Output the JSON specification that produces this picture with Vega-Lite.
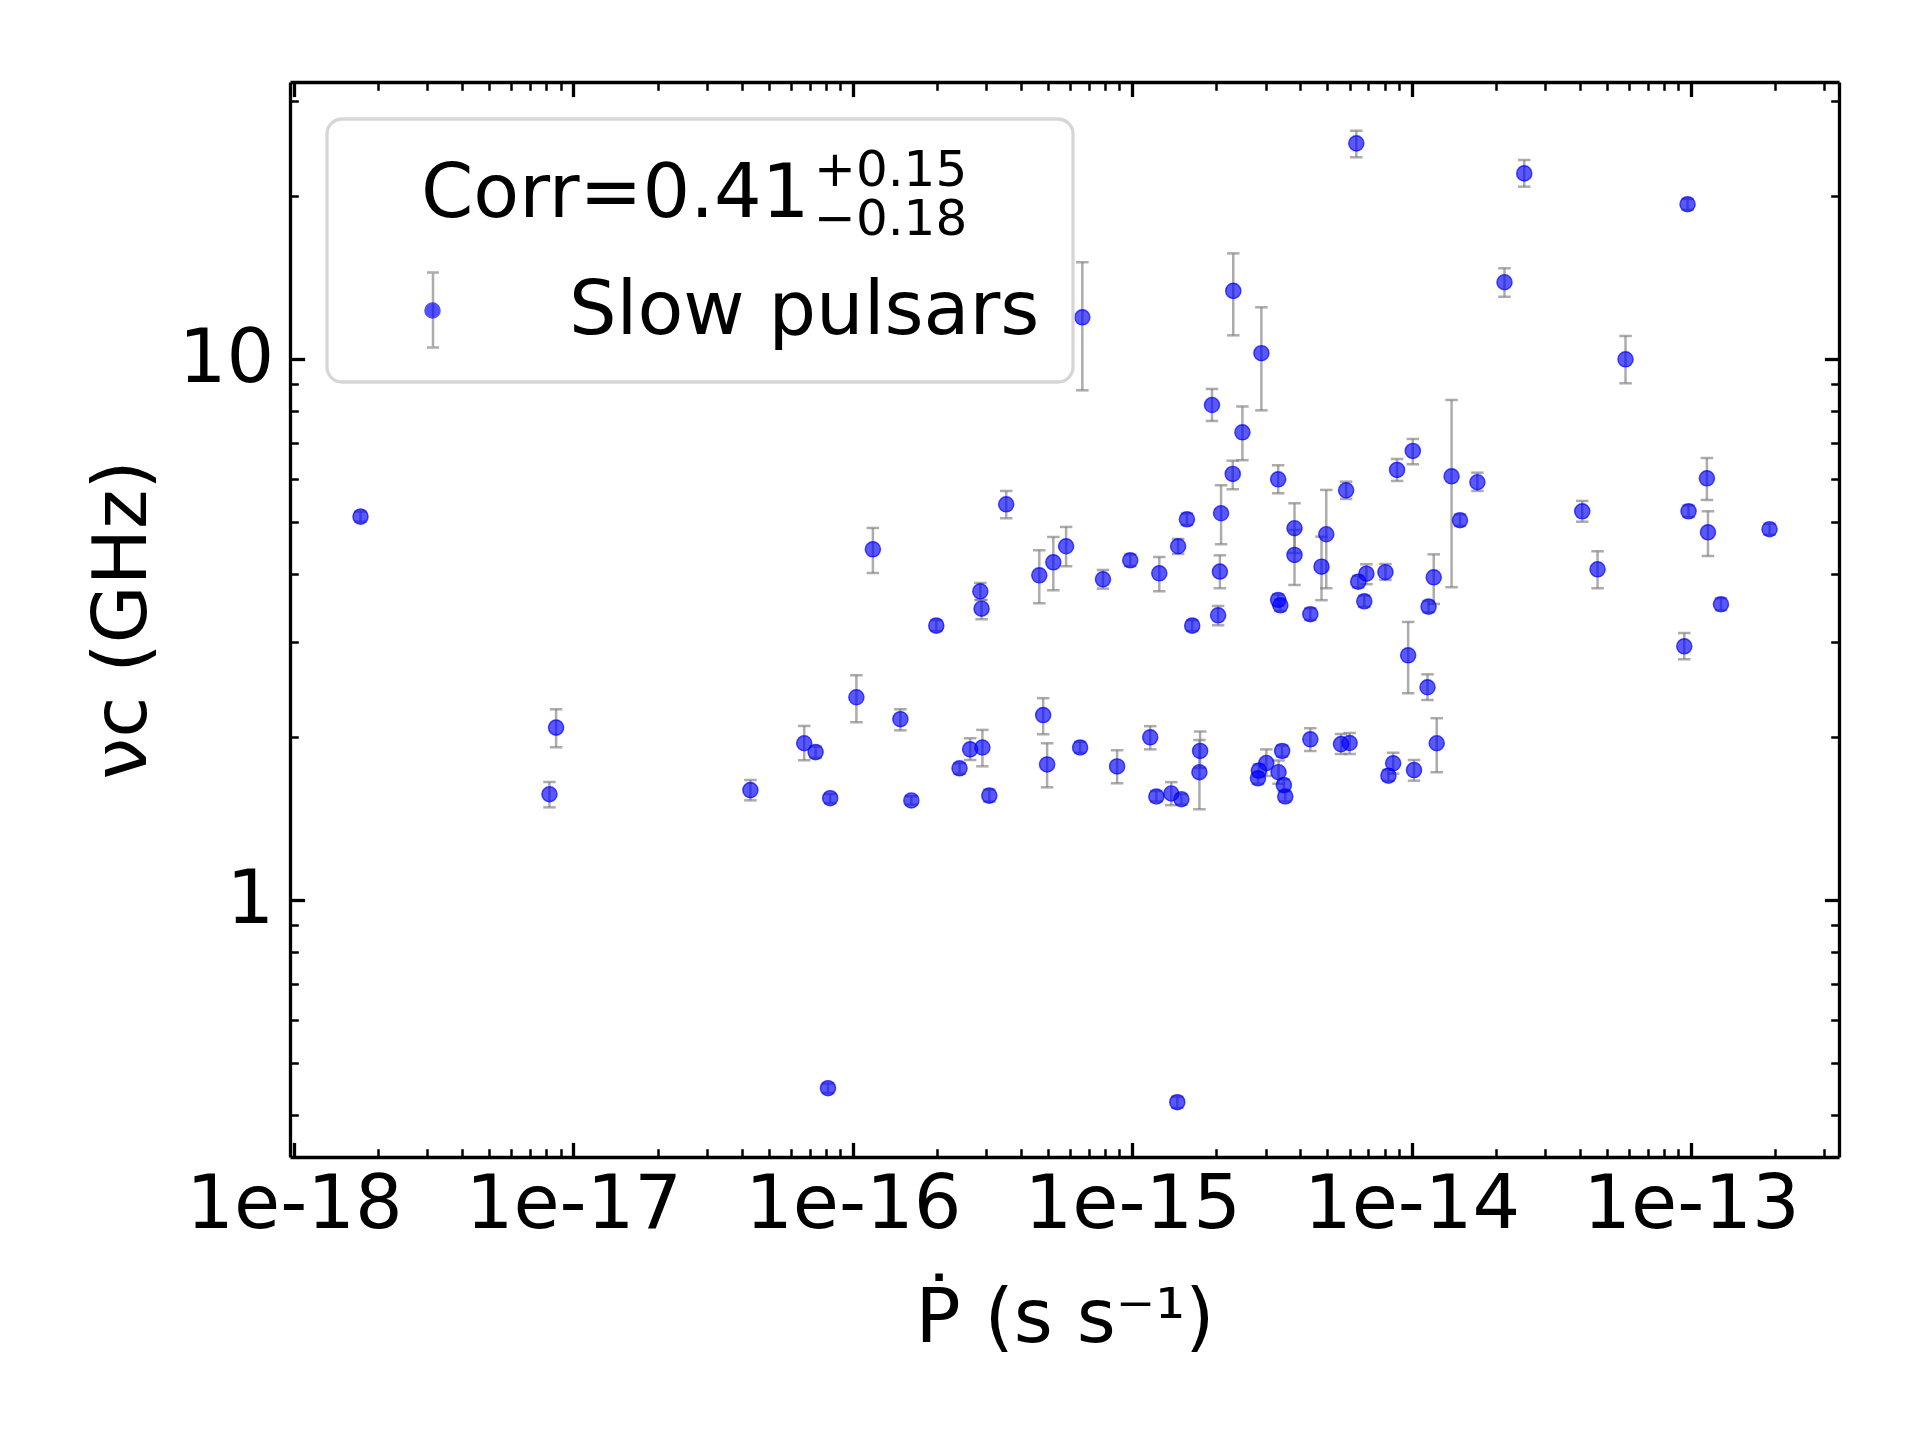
{
  "$schema": "https://vega.github.io/schema/vega-lite/v6.json",
  "width": 1549,
  "height": 1075,
  "autosize": {"type": "none"},
  "padding": {"left": 290, "top": 82, "right": 81, "bottom": 283},
  "background": "white",
  "config": {"view": {"stroke": null}, "axis": {"grid": false}},
  "title": {
    "text": ["+0.15", "−0.18"],
    "anchor": "start",
    "frame": "group",
    "orient": "top",
    "offset": -181,
    "dx": 524,
    "font": "DejaVu Sans",
    "fontSize": 50,
    "fontWeight": "normal",
    "lineHeight": 49,
    "color": "black",
    "limit": 0
  },
  "data": {
    "values": [
      {"pdot": 1.73e-18, "nu": 5.11, "lo": 5.0, "hi": 5.22},
      {"pdot": 8.21e-18, "nu": 1.568, "lo": 1.483, "hi": 1.652},
      {"pdot": 8.67e-18, "nu": 2.082, "lo": 1.915, "hi": 2.251},
      {"pdot": 4.30e-17, "nu": 1.596, "lo": 1.528, "hi": 1.666},
      {"pdot": 6.70e-17, "nu": 1.948, "lo": 1.812, "hi": 2.097},
      {"pdot": 7.36e-17, "nu": 1.876, "lo": 1.83, "hi": 1.92},
      {"pdot": 8.15e-17, "nu": 0.449, "lo": 0.44, "hi": 0.458},
      {"pdot": 8.30e-17, "nu": 1.542, "lo": 1.51, "hi": 1.57},
      {"pdot": 1.03e-16, "nu": 2.369, "lo": 2.13, "hi": 2.602},
      {"pdot": 1.18e-16, "nu": 4.446, "lo": 4.02, "hi": 4.869},
      {"pdot": 1.48e-16, "nu": 2.158, "lo": 2.058, "hi": 2.251},
      {"pdot": 1.62e-16, "nu": 1.527, "lo": 1.5, "hi": 1.555},
      {"pdot": 1.99e-16, "nu": 3.213, "lo": 3.14, "hi": 3.29},
      {"pdot": 2.41e-16, "nu": 1.751, "lo": 1.71, "hi": 1.79},
      {"pdot": 2.63e-16, "nu": 1.898, "lo": 1.814, "hi": 1.99},
      {"pdot": 2.86e-16, "nu": 3.719, "lo": 3.584, "hi": 3.853},
      {"pdot": 2.89e-16, "nu": 3.453, "lo": 3.302, "hi": 3.584},
      {"pdot": 2.91e-16, "nu": 1.913, "lo": 1.766, "hi": 2.062},
      {"pdot": 3.08e-16, "nu": 1.559, "lo": 1.52, "hi": 1.6},
      {"pdot": 3.54e-16, "nu": 5.385, "lo": 5.074, "hi": 5.699},
      {"pdot": 4.65e-16, "nu": 3.981, "lo": 3.534, "hi": 4.428},
      {"pdot": 4.80e-16, "nu": 2.196, "lo": 2.024, "hi": 2.36},
      {"pdot": 4.96e-16, "nu": 1.78, "lo": 1.615, "hi": 1.948},
      {"pdot": 5.22e-16, "nu": 4.207, "lo": 3.735, "hi": 4.686},
      {"pdot": 5.80e-16, "nu": 4.504, "lo": 4.137, "hi": 4.89},
      {"pdot": 6.51e-16, "nu": 1.913, "lo": 1.87, "hi": 1.96},
      {"pdot": 6.63e-16, "nu": 11.93, "lo": 8.746, "hi": 15.08},
      {"pdot": 7.86e-16, "nu": 3.913, "lo": 3.761, "hi": 4.072},
      {"pdot": 8.83e-16, "nu": 1.765, "lo": 1.643, "hi": 1.891},
      {"pdot": 9.84e-16, "nu": 4.243, "lo": 4.14, "hi": 4.35},
      {"pdot": 1.16e-15, "nu": 1.998, "lo": 1.898, "hi": 2.095},
      {"pdot": 1.22e-15, "nu": 1.553, "lo": 1.52, "hi": 1.59},
      {"pdot": 1.25e-15, "nu": 4.015, "lo": 3.719, "hi": 4.303},
      {"pdot": 1.38e-15, "nu": 1.573, "lo": 1.497, "hi": 1.651},
      {"pdot": 1.46e-15, "nu": 4.504, "lo": 4.359, "hi": 4.646},
      {"pdot": 1.45e-15, "nu": 0.423, "lo": 0.413, "hi": 0.433},
      {"pdot": 1.50e-15, "nu": 1.535, "lo": 1.5, "hi": 1.57},
      {"pdot": 1.57e-15, "nu": 5.052, "lo": 4.93, "hi": 5.18},
      {"pdot": 1.64e-15, "nu": 3.213, "lo": 3.14, "hi": 3.29},
      {"pdot": 1.74e-15, "nu": 1.722, "lo": 1.471, "hi": 1.975},
      {"pdot": 1.75e-15, "nu": 1.885, "lo": 1.754, "hi": 2.048},
      {"pdot": 1.93e-15, "nu": 8.215, "lo": 7.676, "hi": 8.796},
      {"pdot": 2.03e-15, "nu": 3.358, "lo": 3.218, "hi": 3.494},
      {"pdot": 2.06e-15, "nu": 4.044, "lo": 3.767, "hi": 4.334},
      {"pdot": 2.08e-15, "nu": 5.183, "lo": 4.543, "hi": 5.839},
      {"pdot": 2.29e-15, "nu": 6.126, "lo": 5.74, "hi": 6.482},
      {"pdot": 2.30e-15, "nu": 13.35, "lo": 11.05, "hi": 15.66},
      {"pdot": 2.48e-15, "nu": 7.314, "lo": 6.496, "hi": 8.164},
      {"pdot": 2.82e-15, "nu": 1.678, "lo": 1.64, "hi": 1.72},
      {"pdot": 2.90e-15, "nu": 10.24, "lo": 8.031, "hi": 12.45},
      {"pdot": 3.02e-15, "nu": 1.791, "lo": 1.695, "hi": 1.898},
      {"pdot": 2.84e-15, "nu": 1.734, "lo": 1.69, "hi": 1.78},
      {"pdot": 3.34e-15, "nu": 1.722, "lo": 1.64, "hi": 1.81},
      {"pdot": 3.33e-15, "nu": 5.989, "lo": 5.643, "hi": 6.357},
      {"pdot": 3.33e-15, "nu": 3.584, "lo": 3.5, "hi": 3.67},
      {"pdot": 3.39e-15, "nu": 3.504, "lo": 3.42, "hi": 3.59},
      {"pdot": 3.44e-15, "nu": 1.885, "lo": 1.84, "hi": 1.93},
      {"pdot": 3.49e-15, "nu": 1.63, "lo": 1.59, "hi": 1.67},
      {"pdot": 3.53e-15, "nu": 1.553, "lo": 1.52, "hi": 1.59},
      {"pdot": 3.81e-15, "nu": 4.863, "lo": 4.377, "hi": 5.408},
      {"pdot": 3.81e-15, "nu": 4.34, "lo": 3.82, "hi": 4.827},
      {"pdot": 4.34e-15, "nu": 3.373, "lo": 3.29, "hi": 3.46},
      {"pdot": 4.34e-15, "nu": 1.981, "lo": 1.885, "hi": 2.076},
      {"pdot": 4.76e-15, "nu": 4.129, "lo": 3.581, "hi": 4.692},
      {"pdot": 4.95e-15, "nu": 4.74, "lo": 3.767, "hi": 5.724},
      {"pdot": 5.59e-15, "nu": 1.941, "lo": 1.861, "hi": 2.026},
      {"pdot": 5.83e-15, "nu": 5.715, "lo": 5.508, "hi": 5.929},
      {"pdot": 6.00e-15, "nu": 1.95, "lo": 1.861, "hi": 2.035},
      {"pdot": 6.34e-15, "nu": 25.01, "lo": 23.57, "hi": 26.39},
      {"pdot": 6.44e-15, "nu": 3.874, "lo": 3.78, "hi": 3.97},
      {"pdot": 6.77e-15, "nu": 3.564, "lo": 3.48, "hi": 3.65},
      {"pdot": 6.89e-15, "nu": 4.008, "lo": 3.832, "hi": 4.172},
      {"pdot": 8.06e-15, "nu": 4.033, "lo": 3.902, "hi": 4.177},
      {"pdot": 8.26e-15, "nu": 1.697, "lo": 1.66, "hi": 1.74},
      {"pdot": 8.59e-15, "nu": 1.789, "lo": 1.712, "hi": 1.871},
      {"pdot": 8.87e-15, "nu": 6.232, "lo": 5.947, "hi": 6.53},
      {"pdot": 9.72e-15, "nu": 2.832, "lo": 2.41, "hi": 3.264},
      {"pdot": 1.02e-14, "nu": 1.738, "lo": 1.661, "hi": 1.814},
      {"pdot": 1.01e-14, "nu": 6.756, "lo": 6.384, "hi": 7.11},
      {"pdot": 1.14e-14, "nu": 2.472, "lo": 2.342, "hi": 2.612},
      {"pdot": 1.15e-14, "nu": 3.484, "lo": 3.4, "hi": 3.57},
      {"pdot": 1.20e-14, "nu": 3.947, "lo": 3.524, "hi": 4.352},
      {"pdot": 1.23e-14, "nu": 1.948, "lo": 1.722, "hi": 2.167},
      {"pdot": 1.39e-14, "nu": 6.066, "lo": 3.784, "hi": 8.393},
      {"pdot": 1.49e-14, "nu": 5.031, "lo": 4.91, "hi": 5.16},
      {"pdot": 1.72e-14, "nu": 5.914, "lo": 5.699, "hi": 6.16},
      {"pdot": 2.15e-14, "nu": 13.85, "lo": 13.02, "hi": 14.7},
      {"pdot": 2.53e-14, "nu": 22.01, "lo": 20.8, "hi": 23.3},
      {"pdot": 4.08e-14, "nu": 5.227, "lo": 5.0, "hi": 5.462},
      {"pdot": 4.63e-14, "nu": 4.083, "lo": 3.767, "hi": 4.409},
      {"pdot": 5.83e-14, "nu": 9.979, "lo": 9.011, "hi": 11.02},
      {"pdot": 9.46e-14, "nu": 2.943, "lo": 2.785, "hi": 3.114},
      {"pdot": 9.72e-14, "nu": 19.3, "lo": 18.85, "hi": 19.75},
      {"pdot": 9.80e-14, "nu": 5.227, "lo": 5.1, "hi": 5.36},
      {"pdot": 1.14e-13, "nu": 6.015, "lo": 5.485, "hi": 6.557},
      {"pdot": 1.15e-13, "nu": 4.78, "lo": 4.321, "hi": 5.227},
      {"pdot": 1.28e-13, "nu": 3.519, "lo": 3.43, "hi": 3.61},
      {"pdot": 1.91e-13, "nu": 4.842, "lo": 4.73, "hi": 4.96}
    ]
  },
  "resolve": {"axis": {"x": "independent", "y": "independent"}},
  "layer": [
    {
      "mark": {"type": "rule", "strokeWidth": 2.5, "opacity": 0.65},
      "encoding": {
        "x": {
          "field": "pdot", "type": "quantitative",
          "scale": {"type": "log", "domain": [9.676e-19, 3.386e-13], "nice": false},
          "axis": {
            "orient": "bottom",
            "values": [1e-18, 2e-18, 3e-18, 4e-18, 5e-18, 6e-18, 7e-18, 8e-18, 9e-18, 1e-17, 2e-17, 3e-17, 4e-17, 5e-17, 6e-17, 7e-17, 8e-17, 9e-17, 1e-16, 2e-16, 3e-16, 4e-16, 5e-16, 6e-16, 7e-16, 8e-16, 9e-16, 1e-15, 2e-15, 3e-15, 4e-15, 5e-15, 6e-15, 7e-15, 8e-15, 9e-15, 1e-14, 2e-14, 3e-14, 4e-14, 5e-14, 6e-14, 7e-14, 8e-14, 9e-14, 1e-13, 2e-13, 3e-13],
            "labelExpr": "abs(log(datum.value)/LN10 - round(log(datum.value)/LN10)) < 0.001 ? '1e' + round(log(datum.value)/LN10) : ''",
            "tickSize": {"condition": {"test": "abs(log(datum.value)/LN10 - round(log(datum.value)/LN10)) < 0.001", "value": -14.6}, "value": -8.3},
            "tickWidth": {"condition": {"test": "abs(log(datum.value)/LN10 - round(log(datum.value)/LN10)) < 0.001", "value": 3.3}, "value": 2.5},
            "tickColor": "black",
            "domainColor": "black",
            "domainWidth": 3.3,
            "labelFont": "DejaVu Sans",
            "labelFontSize": 75,
            "labelColor": "black",
            "labelPadding": 26,
            "labelLimit": 1000,
            "labelOverlap": false,
            "labelFlush": false,
            "labelBound": false,
            "title": "Ṗ (s s⁻¹)",
            "titleFont": "DejaVu Sans",
            "titleFontSize": 75,
            "titleFontWeight": "normal",
            "titleColor": "black",
            "titlePadding": 34,
            "grid": false
          }
        },
        "y": {
          "field": "lo", "type": "quantitative",
          "scale": {"type": "log", "domain": [0.335, 32.47], "nice": false},
          "axis": {
            "orient": "left",
            "values": [0.4, 0.5, 0.6, 0.7, 0.8, 0.9, 1, 2, 3, 4, 5, 6, 7, 8, 9, 10, 20, 30],
            "labelExpr": "abs(log(datum.value)/LN10 - round(log(datum.value)/LN10)) < 0.001 ? '' + round(datum.value) : ''",
            "tickSize": {"condition": {"test": "abs(log(datum.value)/LN10 - round(log(datum.value)/LN10)) < 0.001", "value": -14.6}, "value": -8.3},
            "tickWidth": {"condition": {"test": "abs(log(datum.value)/LN10 - round(log(datum.value)/LN10)) < 0.001", "value": 3.3}, "value": 2.5},
            "tickColor": "black",
            "domainColor": "black",
            "domainWidth": 3.3,
            "labelFont": "DejaVu Sans",
            "labelFontSize": 75,
            "labelColor": "black",
            "labelPadding": 31,
            "labelLimit": 1000,
            "labelOverlap": false,
            "labelFlush": false,
            "labelBound": false,
            "title": "νc (GHz)",
            "titleFont": "DejaVu Sans",
            "titleFontSize": 75,
            "titleFontWeight": "normal",
            "titleColor": "black",
            "titlePadding": 17,
            "grid": false
          }
        },
        "y2": {"field": "hi"},
        "stroke": {
          "datum": "err", "type": "nominal",
          "scale": {"range": ["#808080"]},
          "legend": {
            "orient": "none",
            "legendX": 104,
            "legendY": 189,
            "padding": 0,
            "title": null,
            "symbolType": "M-0.16,-1H0.16M0,-1V1M-0.16,1H0.16",
            "symbolSize": 5625,
            "symbolStrokeWidth": 2.5,
            "symbolFillColor": "transparent",
            "symbolOpacity": 0.65,
            "labelExpr": "''",
            "labelFontSize": 1
          }
        }
      }
    },
    {
      "mark": {"type": "tick", "orient": "horizontal", "size": 12.5, "thickness": 2.5, "color": "#808080", "opacity": 0.65},
      "encoding": {
        "x": {"field": "pdot", "type": "quantitative", "scale": {"type": "log", "domain": [9.676e-19, 3.386e-13], "nice": false}, "axis": null},
        "y": {"field": "lo", "type": "quantitative", "scale": {"type": "log", "domain": [0.335, 32.47], "nice": false}, "axis": null}
      }
    },
    {
      "mark": {"type": "tick", "orient": "horizontal", "size": 12.5, "thickness": 2.5, "color": "#808080", "opacity": 0.65},
      "encoding": {
        "x": {"field": "pdot", "type": "quantitative", "scale": {"type": "log", "domain": [9.676e-19, 3.386e-13], "nice": false}, "axis": null},
        "y": {"field": "hi", "type": "quantitative", "scale": {"type": "log", "domain": [0.335, 32.47], "nice": false}, "axis": null}
      }
    },
    {
      "mark": {"type": "circle", "size": 230, "opacity": 1, "fillOpacity": 0.65, "stroke": "blue", "strokeOpacity": 0.7, "strokeWidth": 1.4},
      "encoding": {
        "x": {
          "field": "pdot", "type": "quantitative",
          "scale": {"type": "log", "domain": [9.676e-19, 3.386e-13], "nice": false},
          "axis": {
            "orient": "top",
            "values": [1e-18, 2e-18, 3e-18, 4e-18, 5e-18, 6e-18, 7e-18, 8e-18, 9e-18, 1e-17, 2e-17, 3e-17, 4e-17, 5e-17, 6e-17, 7e-17, 8e-17, 9e-17, 1e-16, 2e-16, 3e-16, 4e-16, 5e-16, 6e-16, 7e-16, 8e-16, 9e-16, 1e-15, 2e-15, 3e-15, 4e-15, 5e-15, 6e-15, 7e-15, 8e-15, 9e-15, 1e-14, 2e-14, 3e-14, 4e-14, 5e-14, 6e-14, 7e-14, 8e-14, 9e-14, 1e-13, 2e-13, 3e-13],
            "labels": false,
            "title": null,
            "tickSize": {"condition": {"test": "abs(log(datum.value)/LN10 - round(log(datum.value)/LN10)) < 0.001", "value": -14.6}, "value": -8.3},
            "tickWidth": {"condition": {"test": "abs(log(datum.value)/LN10 - round(log(datum.value)/LN10)) < 0.001", "value": 3.3}, "value": 2.5},
            "tickColor": "black",
            "domainColor": "black",
            "domainWidth": 3.3,
            "grid": false
          }
        },
        "y": {
          "field": "nu", "type": "quantitative",
          "scale": {"type": "log", "domain": [0.335, 32.47], "nice": false},
          "axis": {
            "orient": "right",
            "values": [0.4, 0.5, 0.6, 0.7, 0.8, 0.9, 1, 2, 3, 4, 5, 6, 7, 8, 9, 10, 20, 30],
            "labels": false,
            "title": null,
            "tickSize": {"condition": {"test": "abs(log(datum.value)/LN10 - round(log(datum.value)/LN10)) < 0.001", "value": -14.6}, "value": -8.3},
            "tickWidth": {"condition": {"test": "abs(log(datum.value)/LN10 - round(log(datum.value)/LN10)) < 0.001", "value": 3.3}, "value": 2.5},
            "tickColor": "black",
            "domainColor": "black",
            "domainWidth": 3.3,
            "grid": false
          }
        },
        "color": {
          "datum": "Slow pulsars", "type": "nominal",
          "scale": {"range": ["blue"]},
          "legend": {
            "orient": "none",
            "legendX": 37,
            "legendY": 37,
            "padding": 33,
            "cornerRadius": 15,
            "strokeColor": "#d6d6d6",
            "title": "Corr=0.41",
            "titleFont": "DejaVu Sans",
            "titleFontSize": 75,
            "titleFontWeight": "normal",
            "titleColor": "black",
            "titleLimit": 2000,
            "titlePadding": 46,
            "titleAnchor": "start",
            "labelFont": "DejaVu Sans",
            "labelFontSize": 75,
            "labelColor": "black",
            "labelLimit": 2000,
            "labelOffset": 99,
            "symbolOffset": 35,
            "symbolType": "circle",
            "symbolSize": 230,
            "symbolStrokeWidth": 1.4,
            "symbolStrokeColor": "blue",
            "symbolOpacity": 0.68,
            "encode": {
              "legend": {"update": {"strokeWidth": {"value": 3.3}}},
              "title": {"update": {"dx": {"value": 61}, "dy": {"value": 6}}}
            }
          }
        }
      }
    }
  ]
}
